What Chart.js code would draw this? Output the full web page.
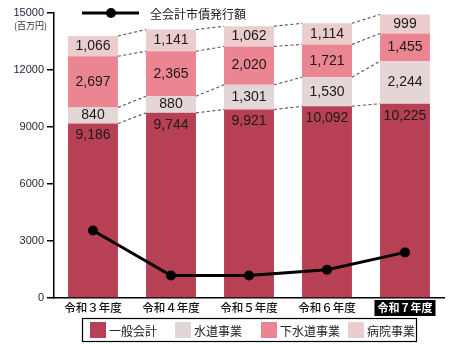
<!DOCTYPE html>
<html>
<head>
<meta charset="utf-8">
<script src="https://cdn.jsdelivr.net/npm/chart.js@4"></script>
<style>
  html, body { margin: 0; padding: 0; background: #fff; }
  #wrap { width: 453px; height: 344px; position: relative; }
</style>
</head>
<body>
<div id="wrap"><canvas id="bond-chart" width="453" height="344"></canvas></div>
<script>
// Fiscal years
const years = ['令和３年度', '令和４年度', '令和５年度', '令和６年度', '令和７年度'];

// Bond issuance by account (百万円)
const generalAccount = [9186, 9744, 9921, 10092, 10225];
const waterWorks = [840, 880, 1301, 1530, 2244];
const sewerWorks = [2697, 2365, 2020, 1721, 1455];
const hospitalWorks = [1066, 1141, 1062, 1114, 999];

// Total issuance line
const totalIssuance = [3550, 1180, 1180, 1490, 2400];

const yTicks = [0, 3000, 6000, 9000, 12000, 15000];

const barColors = ['#b84055', '#e4d6d7', '#ec8592', '#ebcdcd'];
const barNames = ['一般会計', '水道事業', '下水道事業', '病院事業'];

const jpFont = '"Noto Sans CJK JP", "Noto Sans", sans-serif';
const numFont = '"Liberation Sans", Arial, sans-serif';

function fmt(v) {
    return v.toLocaleString('en-US');
}

// Values inside each segment and dashed links between stacked boundaries
const segmentPlugin = {
    id: 'segmentPlugin',
    afterDatasetsDraw(chart) {
        const ctx = chart.ctx;
        const barSets = [0, 1, 2, 3];

        // dashed links
        ctx.save();
        ctx.strokeStyle = '#555';
        ctx.lineWidth = 1.1;
        ctx.setLineDash([3, 2.5]);
        barSets.forEach(di => {
            const meta = chart.getDatasetMeta(di);
            for (let i = 0; i < meta.data.length - 1; i++) {
                const a = meta.data[i];
                const b = meta.data[i + 1];
                ctx.beginPath();
                ctx.moveTo(a.x + a.width / 2, a.y);
                ctx.lineTo(b.x - b.width / 2, b.y);
                ctx.stroke();
            }
        });
        ctx.restore();

        // value labels
        ctx.save();
        ctx.fillStyle = '#1a1a1a';
        ctx.font = '14px ' + numFont;
        ctx.textAlign = 'center';
        ctx.textBaseline = 'middle';
        barSets.forEach(di => {
            const meta = chart.getDatasetMeta(di);
            const values = chart.data.datasets[di].data;
            meta.data.forEach((bar, i) => {
                const y = di === 0 ? bar.y + 12 : (bar.y + bar.base) / 2;
                ctx.fillText(fmt(values[i]), bar.x, y);
            });
        });
        ctx.restore();
    }
};

// Category labels, unit caption and both legends
const decorPlugin = {
    id: 'decorPlugin',
    afterDraw(chart) {
        const ctx = chart.ctx;
        const xs = chart.scales.x;
        const area = chart.chartArea;

        ctx.save();
        ctx.textAlign = 'center';
        ctx.textBaseline = 'middle';
        years.forEach((label, i) => {
            const x = xs.getPixelForValue(i);
            const y = area.bottom + 10;
            if (i === years.length - 1) {
                ctx.font = 'bold 11px ' + jpFont;
                const w = ctx.measureText(label).width + 6;
                ctx.fillStyle = '#000';
                ctx.fillRect(x - w / 2, area.bottom + 2, w, 16);
                ctx.fillStyle = '#fff';
            } else {
                ctx.font = '500 11.5px ' + jpFont;
                ctx.fillStyle = '#111';
            }
            ctx.fillText(label, x, y);
        });

        // unit caption under the top tick
        ctx.fillStyle = '#333';
        ctx.font = '9px ' + jpFont;
        ctx.textAlign = 'right';
        ctx.fillText('(百万円)', 47, 26);

        // line legend at the top
        ctx.strokeStyle = '#000';
        ctx.lineWidth = 3;
        ctx.beginPath();
        ctx.moveTo(82, 13);
        ctx.lineTo(139, 13);
        ctx.stroke();
        ctx.fillStyle = '#000';
        ctx.beginPath();
        ctx.arc(111, 13, 5, 0, Math.PI * 2);
        ctx.fill();
        ctx.fillStyle = '#222';
        ctx.font = '12px ' + jpFont;
        ctx.textAlign = 'left';
        ctx.fillText('全会計市債発行額', 150, 14);

        // bar legend at the bottom
        ctx.strokeStyle = '#000';
        ctx.lineWidth = 1.2;
        ctx.strokeRect(82.5, 318.5, 334, 23);
        const boxX = [90, 175, 261, 348];
        ctx.font = '12px ' + jpFont;
        barNames.forEach((name, i) => {
            ctx.fillStyle = barColors[i];
            ctx.fillRect(boxX[i], 322, 16, 16);
            ctx.fillStyle = '#222';
            ctx.fillText(name, boxX[i] + 19, 331);
        });
        ctx.restore();
    }
};

const ctx = document.getElementById('bond-chart').getContext('2d');
new Chart(ctx, {
    data: {
        labels: years,
        datasets: [
            { type: 'bar', label: barNames[0], data: generalAccount, backgroundColor: barColors[0], stack: 's', order: 2 },
            { type: 'bar', label: barNames[1], data: waterWorks, backgroundColor: barColors[1], stack: 's', order: 2 },
            { type: 'bar', label: barNames[2], data: sewerWorks, backgroundColor: barColors[2], stack: 's', order: 2 },
            { type: 'bar', label: barNames[3], data: hospitalWorks, backgroundColor: barColors[3], stack: 's', order: 2 },
            {
                type: 'line',
                label: '全会計市債発行額',
                data: totalIssuance,
                borderColor: '#000',
                borderWidth: 3,
                pointRadius: 5,
                pointBackgroundColor: '#000',
                pointBorderWidth: 0,
                tension: 0,
                order: 1
            }
        ]
    },
    options: {
        responsive: false,
        animation: false,
        layout: { padding: { top: 13, right: 9, left: 0, bottom: 0 } },
        datasets: {
            bar: { barPercentage: 0.64, categoryPercentage: 1 }
        },
        plugins: {
            legend: { display: false },
            tooltip: { enabled: false }
        },
        scales: {
            x: {
                stacked: true,
                grid: { display: false },
                border: { color: '#000', width: 1.5 },
                ticks: { display: false },
                afterFit(scale) { scale.height = 46; }
            },
            y: {
                stacked: true,
                min: 0,
                max: 15000,
                afterBuildTicks(scale) {
                    scale.ticks = yTicks.map(v => ({ value: v }));
                },
                grid: { drawOnChartArea: false, drawTicks: true, tickLength: 7, color: '#000', lineWidth: 1.5 },
                border: { color: '#000', width: 1.5 },
                ticks: {
                    color: '#1a2233',
                    font: { family: numFont, size: 11 },
                    padding: 3,
                    callback: v => String(v)
                },
                afterFit(scale) { scale.width = 54; }
            }
        }
    },
    plugins: [segmentPlugin, decorPlugin]
});
</script>
</body>
</html>
